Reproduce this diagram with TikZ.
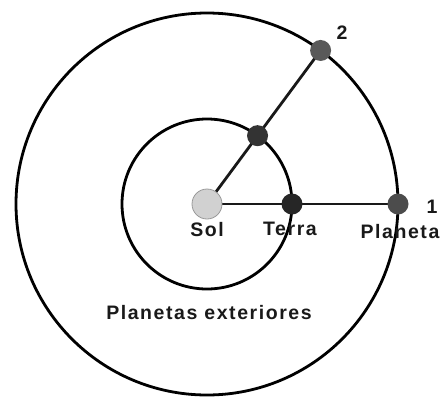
\documentclass[tikz,border=0pt]{standalone}
\usepackage{fontspec}
\setmainfont{Liberation Sans}
\usetikzlibrary{backgrounds}
\begin{document}
\begin{tikzpicture}[x=1pt,y=1pt,
  orbit/.style={draw=black,line width=2.8pt},
  link/.style={draw=black!90,line width=2.8pt},
  body/.style={circle,inner sep=0pt,minimum size=21pt},
  lbl/.style={font=\fontsize{19.5}{19.5}\selectfont\bfseries\addfontfeatures{LetterSpace=8},text=black!90,inner sep=0pt}]
\useasboundingbox (-207,-193) rectangle (234,204);
\draw[orbit] (0,0) circle (85);
\draw[orbit] (0,0) circle (191);
\node[body,fill=black!18,draw=black!40,line width=0.8pt,minimum size=30pt] (sol) at (0,0) {};
\node[body,fill=black!85] (terra) at (85,0) {};
\node[body,fill=black!70] (planeta) at (191,0) {};
\node[body,fill=black!80] (terra2) at (53.5:85) {};
\node[body,fill=black!65] (planeta2) at (53.5:191) {};
\begin{scope}[on background layer]
\draw[link] (sol.center) -- (planeta.center);
\draw[link] (sol.center) -- (planeta2.center);
\end{scope}
\node[lbl] (lsol) at (0,-26) {Sol};
\node[lbl] (lterra) at (83,-25) {Terra};
\node[lbl] (lplaneta) at (193,-28) {Planeta};
\node[lbl] (l1) at (225,-3) {1};
\node[lbl] (l2) at (135,171) {2};
\node[lbl] (ext) at (2,-109) {Planetas exteriores};
\end{tikzpicture}
\end{document}
